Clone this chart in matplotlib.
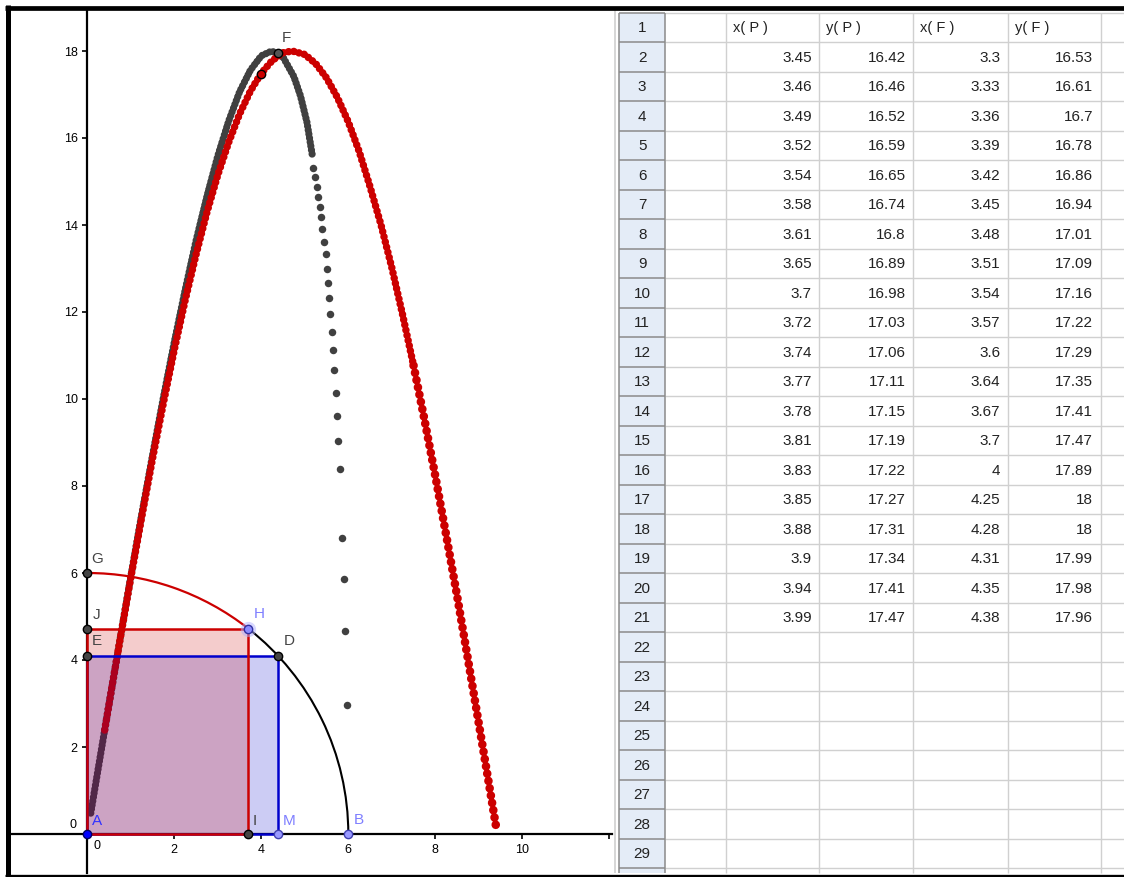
import numpy as np
import matplotlib
matplotlib.use("Agg")
import matplotlib.pyplot as plt
from matplotlib.patches import Rectangle, Arc

plt.rcParams['font.family'] = ['Liberation Sans', 'DejaVu Sans']

# spreadsheet values, rows 2..21
x_P = [3.45, 3.46, 3.49, 3.52, 3.54, 3.58, 3.61, 3.65, 3.7, 3.72,
       3.74, 3.77, 3.78, 3.81, 3.83, 3.85, 3.88, 3.9, 3.94, 3.99]
y_P = [16.42, 16.46, 16.52, 16.59, 16.65, 16.74, 16.8, 16.89, 16.98, 17.03,
       17.06, 17.11, 17.15, 17.19, 17.22, 17.27, 17.31, 17.34, 17.41, 17.47]
x_F = [3.3, 3.33, 3.36, 3.39, 3.42, 3.45, 3.48, 3.51, 3.54, 3.57,
       3.6, 3.64, 3.67, 3.7, 4, 4.25, 4.28, 4.31, 4.35, 4.38]
y_F = [16.53, 16.61, 16.7, 16.78, 16.86, 16.94, 17.01, 17.09, 17.16, 17.22,
       17.29, 17.35, 17.41, 17.47, 17.89, 18, 18, 17.99, 17.98, 17.96]
col_titles = ["x( P )", "y( P )", "x( F )", "y( F )"]
n_rows = 29

# construction (quarter circle of radius 6 around A)
radius = 6
pt_H = (3.70, 4.72)
pt_D = (4.38, 4.10)
pt_P = (x_P[-1], y_P[-1])
pt_F = (x_F[-1], y_F[-1])

# trace of P (red): dense part, then the looser tail
red_x = [0.40, 0.60, 0.80, 1.00, 1.25, 1.50, 1.75, 2.00, 2.25, 2.50, 2.75, 3.00, 3.25,
         3.50, 3.75, 4.00, 4.25, 4.50, 4.71, 5.00, 5.25, 5.50, 5.75, 6.00, 6.25, 6.50,
         6.75, 7.00, 7.25, 7.50]
red_y = [2.39, 3.58, 4.74, 5.89, 7.28, 8.63, 9.91, 11.13, 12.27, 13.32, 14.29, 15.15, 15.90,
         16.55, 17.08, 17.49, 17.78, 17.96, 18.00, 17.92, 17.71, 17.38, 16.93, 16.37, 15.69,
         14.88, 14.01, 13.02, 11.93, 10.77]
red_tail_x = [7.50, 7.75, 8.00, 8.25, 8.50, 8.75, 9.00, 9.20, 9.41]
red_tail_y = [10.77, 9.53, 8.23, 6.87, 5.48, 4.02, 2.54, 1.35, 0.09]

# trace of F (dark), dense part then the single dots
black_x = [0.08, 0.25, 0.50, 0.75, 1.00, 1.25, 1.50, 1.75, 2.00, 2.25, 2.50, 2.75,
           3.00, 3.25, 3.50, 3.75, 4.00, 4.24, 4.50, 4.75, 4.90, 5.05, 5.17]
black_y = [0.48, 1.50, 2.99, 4.46, 5.92, 7.34, 8.71, 10.04, 11.31, 12.51, 13.64, 14.66,
           15.59, 16.39, 17.06, 17.56, 17.89, 18.00, 17.86, 17.41, 16.97, 16.36, 15.62]
dots_x = [5.20, 5.23, 5.27, 5.31, 5.35, 5.37, 5.40, 5.43, 5.48, 5.50, 5.53, 5.56,
          5.59, 5.62, 5.65, 5.68, 5.72, 5.74, 5.77, 5.80, 5.86, 5.89, 5.92, 5.96]
dots_y = [15.30, 15.10, 14.88, 14.65, 14.42, 14.18, 13.90, 13.62, 13.34, 13.00, 12.66, 12.32,
          11.95, 11.55, 11.13, 10.66, 10.13, 9.62, 9.03, 8.38, 6.81, 5.86, 4.66, 2.96]

RED = '#cc0000'
BLUE = '#0000cc'
DARK = '#444444'
LIGHTBLUE = '#7f7fff'

W, HGT = 1124, 877
fig = plt.figure(figsize=(W / 100, HGT / 100), dpi=100)

# background: spreadsheet, in pixel units
bg = fig.add_axes([0, 0, 1, 1])
bg.set_xlim(0, W)
bg.set_ylim(HGT, 0)
bg.axis('off')

col_edges = [619.3, 665, 725.7, 819.3, 913.3, 1007.7, 1100.7]
row_top, row_h, tab_bottom = 12.7, 29.5, 873
bg.add_patch(Rectangle((col_edges[0], row_top), col_edges[1] - col_edges[0],
                       tab_bottom - row_top, facecolor='#e4ecf7', edgecolor='none'))
row_lines = [row_top + i * row_h for i in range(n_rows + 1)]
bg.hlines(row_lines, col_edges[1], W, color='#d0d0d0', lw=1)
bg.hlines(row_lines, col_edges[0], col_edges[1], color='#8a8a8a', lw=1.1)
bg.vlines(col_edges[2:], row_top, tab_bottom, color='#d0d0d0', lw=1)
bg.vlines(col_edges[:2], row_top, tab_bottom, color='#8a8a8a', lw=1.1)
bg.vlines(615, 10, tab_bottom, color='#cfcfcf', lw=1.2)

for i in range(n_rows):
    yc = row_top + (i + 0.5) * row_h + 1
    bg.text((col_edges[0] + col_edges[1]) / 2, yc, str(i + 1), ha='center',
            va='center', fontsize=11, color='#222222')

columns = [x_P, y_P, x_F, y_F]
for j, (title, vals) in enumerate(zip(col_titles, columns)):
    left, right = col_edges[j + 2], col_edges[j + 3]
    bg.text(left + 7, row_top + 0.5 * row_h + 1, title, ha='left', va='center',
            fontsize=10.5, color='#222222')
    for i, v in enumerate(vals):
        yc = row_top + (i + 1.5) * row_h + 1
        bg.text(right - 7.5, yc, f"{v:g}", ha='right', va='center',
                fontsize=11, color='#222222')

# graphics view
ox, oy, scale = 87.3, 834.0, 43.5
gl, gr, gt, gb = 10, 612, 10.7, 873
ax = fig.add_axes([gl / W, 1 - gb / HGT, (gr - gl) / W, (gb - gt) / HGT])
ax.set_xlim((gl - ox) / scale, (gr - ox) / scale)
ax.set_ylim((oy - gb) / scale, (oy - gt) / scale)
ax.set_facecolor('white')
ax.spines['top'].set_visible(False)
ax.spines['right'].set_visible(False)
ax.spines['left'].set_position(('data', 0))
ax.spines['bottom'].set_position(('data', 0))
for s in ['left', 'bottom']:
    ax.spines[s].set_linewidth(1.6)
ax.set_xticks([2, 4, 6, 8, 10, 12])
ax.set_xticklabels(['2', '4', '6', '8', '10', ''])
ax.set_yticks(list(range(2, 19, 2)))
ax.tick_params(direction='out', length=3.5, width=1.2, labelsize=9, pad=3.5,
               colors='black')
ax.annotate('0', (0, 0), xytext=(-14, 9), textcoords='offset pixels',
            ha='center', va='center', fontsize=9)
ax.annotate('0', (0, 0), xytext=(10, -12), textcoords='offset pixels',
            ha='center', va='center', fontsize=9)

# traces (under the fills)
ax.plot(black_x, black_y, color='#404040', lw=5.2, linestyle=(0, (0.01, 0.55)),
        dash_capstyle='round', zorder=1)
ax.plot(dots_x, dots_y, 'o', color='#404040', ms=5.4, mew=0, zorder=1)
ax.plot(red_x, red_y, color=RED, lw=5.4, linestyle=(0, (0.01, 0.7)),
        dash_capstyle='round', zorder=1.5)
ax.plot(red_tail_x, red_tail_y, color=RED, lw=6.2, linestyle=(0, (0.01, 0.85)),
        dash_capstyle='round', zorder=1.5)

# rectangles
ax.add_patch(Rectangle((0, 0), pt_D[0], pt_D[1], facecolor=(0, 0, 0.8, 0.2),
                       edgecolor='none', zorder=2))
ax.add_patch(Rectangle((0, 0), pt_H[0], pt_H[1], facecolor=(0.8, 0, 0, 0.2),
                       edgecolor='none', zorder=2.1))
ax.add_patch(Rectangle((0, 0), pt_D[0], pt_D[1], facecolor='none',
                       edgecolor=BLUE, lw=1.8, zorder=3))
ax.add_patch(Rectangle((0, 0), pt_H[0], pt_H[1], facecolor='none',
                       edgecolor=RED, lw=1.8, zorder=3.1))

# quarter circle arcs
theta_H = np.degrees(np.arctan2(pt_H[1], pt_H[0]))
ax.add_patch(Arc((0, 0), 2 * radius, 2 * radius, theta1=theta_H, theta2=90,
                 color=RED, lw=1.6, zorder=3))
ax.add_patch(Arc((0, 0), 2 * radius, 2 * radius, theta1=0, theta2=theta_H,
                 color='black', lw=1.5, zorder=3))

# points and labels
points = [
    ('A', (0, 0), '#0000ff', '#000066', '#3333ff', (10, 13)),
    ('B', (radius, 0), '#9999ff', '#4040b0', LIGHTBLUE, (11, 14)),
    ('G', (0, radius), DARK, 'black', DARK, (10, 14)),
    ('J', (0, pt_H[1]), DARK, 'black', DARK, (9, 14)),
    ('E', (0, pt_D[1]), DARK, 'black', DARK, (10, 15)),
    ('I', (pt_H[0], 0), DARK, 'black', DARK, (7, 13)),
    ('M', (pt_D[0], 0), '#9999ff', '#4040b0', LIGHTBLUE, (11, 13)),
    ('D', pt_D, DARK, 'black', DARK, (11, 15)),
    ('H', pt_H, '#8c8cff', '#3030a0', LIGHTBLUE, (11, 15)),
    ('F', pt_F, '#555555', 'black', DARK, (9, 15)),
]
ax.plot(*pt_H, 'o', ms=11, color='#b0b0ff', alpha=0.5, mew=0, zorder=4.5)
ax.plot(*pt_P, 'o', ms=6, mfc=RED, mec='black', mew=1, zorder=5)
for name, (px, py), fc, ec, lc, off in points:
    ax.plot(px, py, 'o', ms=6, mfc=fc, mec=ec, mew=1, zorder=5, clip_on=False)
    ax.annotate(name, (px, py), xytext=off, textcoords='offset pixels',
                ha='center', va='center', fontsize=11, color=lc, zorder=6)

# window frame
frame = fig.add_axes([0, 0, 1, 1], zorder=10)
frame.patch.set_alpha(0)
frame.set_xlim(0, W)
frame.set_ylim(HGT, 0)
frame.axis('off')
frame.hlines(7.8, 5, W, color='black', lw=3.4)
frame.vlines(7.6, 5, HGT, color='black', lw=3.6)
frame.hlines(875.5, 5, W, color='black', lw=2.4)

fig.savefig('out.png', dpi=100)
